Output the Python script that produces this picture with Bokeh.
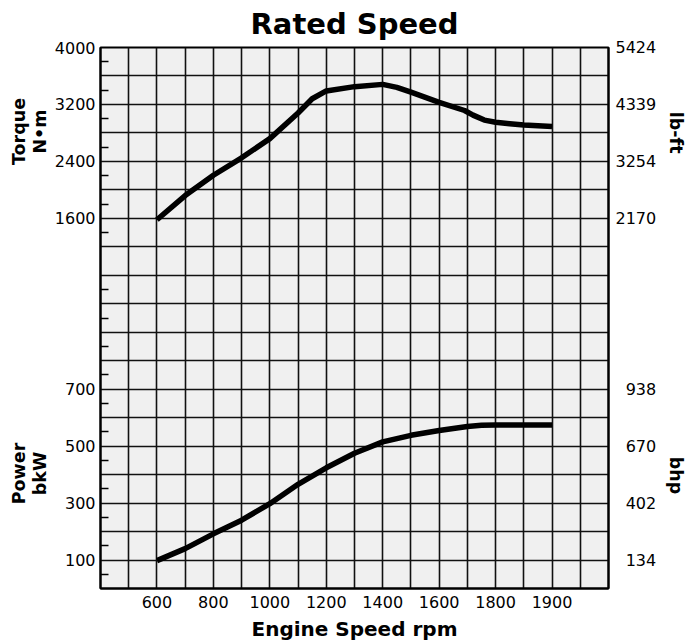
from bokeh.plotting import figure
from bokeh.models import Range1d, FixedTicker, SingleIntervalTicker, LinearAxis
from bokeh.embed import file_html
from bokeh.resources import INLINE

# ---------------- data ----------------
rpm_torque = [600, 700, 800, 900, 1000, 1100, 1150, 1200, 1300, 1400, 1450, 1500,
              1600, 1690, 1720, 1760, 1800, 1850, 1900, 2000]
torque_nm = [1580, 1920, 2205, 2450, 2720, 3080, 3280, 3390, 3450, 3482, 3440, 3372,
             3230, 3115, 3050, 2980, 2950, 2930, 2910, 2890]

rpm_power = [600, 700, 800, 900, 1000, 1100, 1200, 1300, 1400, 1500, 1600, 1700,
             1750, 1800, 1900, 2000]
power_kw = [98, 140, 192, 240, 298, 366, 424, 475, 515, 538, 555, 569,
            573, 574, 574, 574]

rpm_ticks = [600, 800, 1000, 1200, 1400, 1600, 1800, 2000]
rpm_tick_labels = ["600", "800", "1000", "1200", "1400", "1600", "1800", "1900"]

torque_ticks = [1600, 2400, 3200, 4000]
torque_tick_labels = ["1600", "2400", "3200", "4000"]
lbft_tick_labels = ["2170", "3254", "4339", "5424"]

power_ticks = [100, 300, 500, 700]
power_tick_labels = ["100", "300", "500", "700"]
bhp_tick_labels = ["134", "402", "670", "938"]

# ---------------- scales ----------------
X_START, X_END = 400, 2200
P_START, P_END = 0, 1900          # main (power) range, one grid row = 100 kW
T_START, T_END = -3600, 4000      # torque range aligned on the same grid (400 N·m/row)

def torque_to_main(t):
    return P_START + (t - T_START) * (P_END - P_START) / (T_END - T_START)

FONT = "DejaVu Sans"
FIG_SPACE = "\u2007"

p = figure(width=688, height=644, output_backend="svg", toolbar_location=None,
           x_range=Range1d(X_START, X_END), y_range=Range1d(P_START, P_END),
           min_border_left=100, min_border_right=76, min_border_top=47,
           min_border_bottom=56)
p.extra_y_ranges = {"torque": Range1d(T_START, T_END)}

p.background_fill_color = "#f0f0f0"
p.border_fill_color = "white"
p.outline_line_color = "black"
p.outline_line_width = 2

# title
p.title.text = "Rated Speed"
p.title.align = "center"
p.title.vertical_align = "top"
p.title.text_font = FONT
p.title.text_font_style = "bold"
p.title.text_font_size = "29px"
p.title.text_color = "black"
p.title.standoff = 9

# grid
p.xgrid.ticker = SingleIntervalTicker(interval=100, num_minor_ticks=0)
p.ygrid.ticker = SingleIntervalTicker(interval=100, num_minor_ticks=0)
for g in (p.xgrid, p.ygrid):
    g.grid_line_color = "#111111"
    g.grid_line_width = 1.6
    g.grid_line_alpha = 1.0

def no_ticks(ax):
    ax.major_tick_in = 0
    ax.major_tick_out = 0
    ax.minor_tick_in = 0
    ax.minor_tick_out = 0

# x axis
xa = p.xaxis[0]
xa.ticker = FixedTicker(ticks=rpm_ticks, minor_ticks=[])
xa.major_label_overrides = {int(t): l for t, l in zip(rpm_ticks, rpm_tick_labels)}
no_ticks(xa)
xa.axis_line_color = "black"
xa.axis_line_width = 2
xa.major_label_standoff = 7
xa.major_label_text_font = FONT
xa.major_label_text_font_size = "16px"
xa.major_label_text_color = "black"
xa.axis_label = "Engine Speed rpm"
xa.axis_label_standoff = 6
xa.axis_label_text_font = FONT
xa.axis_label_text_font_style = "bold"
xa.axis_label_text_font_size = "20px"
xa.axis_label_text_color = "black"

# left axis: torque block on top, power block at the bottom
left_pos = [int(round(torque_to_main(t))) for t in torque_ticks] + list(power_ticks)
left_lab = list(torque_tick_labels) + list(power_tick_labels)
minor = [u + 50 for u in range(P_START, P_END, 100) if u != 1100]
ya = p.yaxis[0]
ya.ticker = FixedTicker(ticks=left_pos, minor_ticks=minor)
ya.major_label_overrides = {int(t): l for t, l in zip(left_pos, left_lab)}
no_ticks(ya)
ya.minor_tick_in = 8
ya.minor_tick_line_color = "black"
ya.minor_tick_line_width = 1.5
ya.axis_line_color = "black"
ya.axis_line_width = 2
ya.major_label_standoff = 5
ya.major_label_text_font = FONT
ya.major_label_text_font_size = "16px"
ya.major_label_text_color = "black"

# outer left axis carrying the block titles
TITLE_KW = dict(major_label_text_font=FONT, major_label_text_font_style="bold",
                major_label_text_font_size="17.5px", major_label_text_color="black",
                major_label_text_line_height=1.05, major_label_orientation="vertical",
                axis_line_color=None, major_tick_in=0, major_tick_out=0,
                minor_tick_in=0, minor_tick_out=0)
left_title_pos = [1605, 404]
left_title_lab = ["Torque\nN•m", "Power\nbkW"]
lt = LinearAxis(ticker=FixedTicker(ticks=left_title_pos, minor_ticks=[]),
                major_label_overrides=dict(zip(left_title_pos, left_title_lab)),
                major_label_standoff=1, **TITLE_KW)
p.add_layout(lt, "left")

# right axis: converted units
right_pos = [int(round(torque_to_main(t))) for t in torque_ticks] + list(power_ticks)
right_lab = list(lbft_tick_labels) + [FIG_SPACE + s for s in bhp_tick_labels]
ra = LinearAxis(ticker=FixedTicker(ticks=right_pos, minor_ticks=[]),
                major_label_overrides=dict(zip(right_pos, right_lab)),
                major_label_standoff=7, major_label_text_font=FONT,
                major_label_text_font_size="16px", major_label_text_color="black",
                axis_line_color="black", axis_line_width=2,
                major_tick_in=0, major_tick_out=0, minor_tick_in=0, minor_tick_out=0)
p.add_layout(ra, "right")

right_title_pos = [1601, 397]
right_title_lab = ["lb-ft", "bhp"]
rt = LinearAxis(ticker=FixedTicker(ticks=right_title_pos, minor_ticks=[]),
                major_label_overrides=dict(zip(right_title_pos, right_title_lab)),
                major_label_standoff=6, **TITLE_KW)
p.add_layout(rt, "right")

# curves
p.line(rpm_torque, torque_nm, y_range_name="torque", line_color="black",
       line_width=5.5, line_join="round")
p.line(rpm_power, power_kw, line_color="black", line_width=5.5, line_join="round")

open("out.html", "w").write(file_html(p, INLINE))
